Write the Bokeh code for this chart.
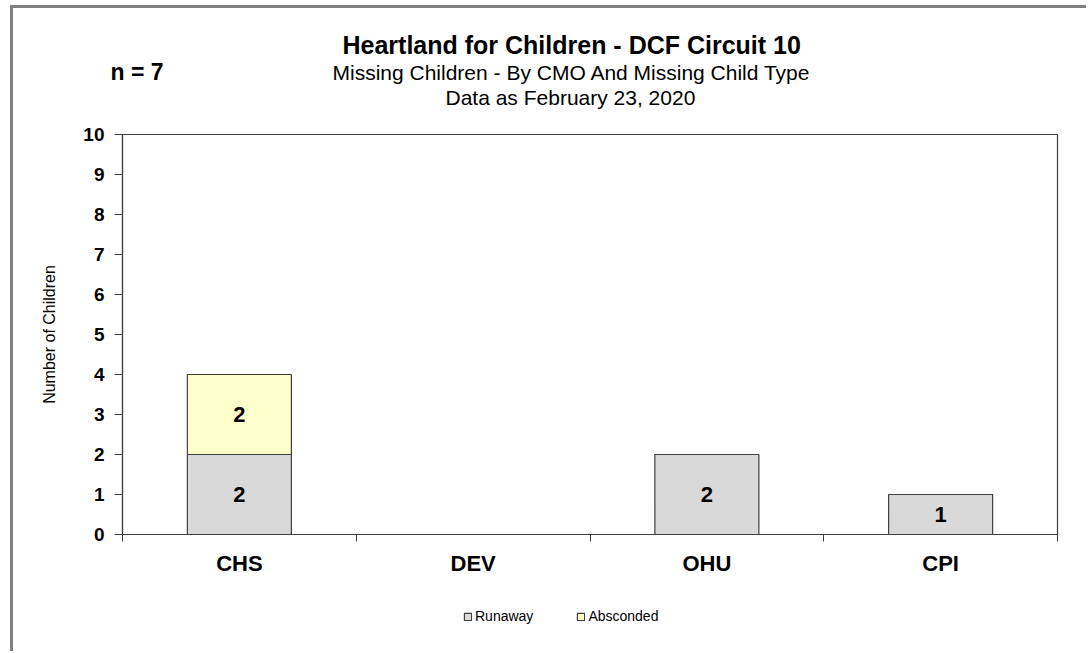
from bokeh.plotting import figure
from bokeh.layouts import column, row
from bokeh.models import (Range1d, FixedTicker, ColumnDataSource, LabelSet, Title,
                          Legend, LegendItem, Spacer)
from bokeh.core.properties import value
from bokeh.embed import file_html
from bokeh.resources import INLINE

categories = ["CHS", "DEV", "OHU", "CPI"]
runaway = [2, 0, 2, 1]
absconded = [2, 0, 0, 0]
series_names = ["Runaway", "Absconded"]
series_colors = ["#D9D9D9", "#FFFFCC"]
y_ticks = [0, 1, 2, 3, 4, 5, 6, 7, 8, 9, 10]
title = "Heartland for Children - DCF Circuit 10"
subtitle = "Missing Children - By CMO And Missing Child Type"
date_line = "Data as February 23, 2020"
n_text = "n = 7"

FONT = "Liberation Sans"
EDGE = "#404040"
FRAME_GRAY = {"background-color": "#808080"}
xs = [i + 0.5 for i in range(len(categories))]

p = figure(width=1073, height=572, output_backend="svg", toolbar_location=None,
           x_range=Range1d(0, len(categories)), y_range=Range1d(0, 10))
p.title = None
p.min_border_left = 109
p.min_border_right = 29
p.min_border_top = 126
p.min_border_bottom = 46
p.xgrid.visible = False
p.ygrid.visible = False
p.outline_line_color = EDGE
p.outline_line_width = 1.2

src = ColumnDataSource(dict(
    x=xs, run_top=runaway, abs_bottom=runaway,
    abs_top=[r + a for r, a in zip(runaway, absconded)],
))
p.vbar(x="x", bottom=0, top="run_top", width=0.445, source=src,
       fill_color=series_colors[0], line_color=EDGE, line_width=1.2)
p.vbar(x="x", bottom="abs_bottom", top="abs_top", width=0.445, source=src,
       fill_color=series_colors[1], line_color=EDGE, line_width=1.2)

lab = dict(x=[], y=[], t=[])
for x, r, a in zip(xs, runaway, absconded):
    if r > 0:
        lab["x"].append(x); lab["y"].append(r / 2); lab["t"].append(str(r))
    if a > 0:
        lab["x"].append(x); lab["y"].append(r + a / 2); lab["t"].append(str(a))
p.add_layout(LabelSet(x="x", y="y", text="t", source=ColumnDataSource(lab),
                      text_align="center", text_baseline="middle",
                      text_font=value(FONT), text_font_style="bold",
                      text_font_size="22px", text_color="#000000"))

xa = p.xaxis[0]
xa.ticker = FixedTicker(ticks=xs, minor_ticks=list(range(len(categories) + 1)))
xa.major_label_overrides = {x: c for x, c in zip(xs, categories)}
xa.major_tick_line_color = None
xa.minor_tick_out = 7
xa.minor_tick_in = 0
xa.minor_tick_line_color = EDGE
xa.axis_line_color = EDGE
xa.axis_line_width = 1.2
xa.major_label_standoff = 9
xa.major_label_text_font = FONT
xa.major_label_text_font_style = "bold"
xa.major_label_text_font_size = "22px"
xa.major_label_text_color = "#000000"

ya = p.yaxis[0]
ya.ticker = FixedTicker(ticks=y_ticks, minor_ticks=[])
ya.major_tick_out = 8
ya.major_tick_in = 0
ya.major_tick_line_color = EDGE
ya.axis_line_color = EDGE
ya.axis_line_width = 1.2
ya.major_label_standoff = 10
ya.major_label_text_font = FONT
ya.major_label_text_font_style = "bold"
ya.major_label_text_font_size = "19px"
ya.major_label_text_color = "#000000"
ya.axis_label = "Number of Children"
ya.axis_label_text_font = FONT
ya.axis_label_text_font_style = "normal"
ya.axis_label_text_font_size = "16px"
ya.axis_label_standoff = 22
ya.axis_label_text_color = "#000000"

# titles: later-added sit further from the frame
p.add_layout(Title(text=" ", text_font_size="16px", standoff=7), "above")
p.add_layout(Title(text=date_line, align="left", offset=323, standoff=0,
                   text_font=FONT, text_font_style="normal", text_font_size="21px",
                   text_color="#000000"), "above")
p.add_layout(Title(text=subtitle, align="left", offset=210, standoff=0,
                   text_font=FONT, text_font_style="normal", text_font_size="21px",
                   text_color="#000000"), "above")
p.add_layout(Title(text=n_text, align="left", offset=-12, standoff=-53,
                   text_font=FONT, text_font_style="bold", text_font_size="23px",
                   text_color="#000000"), "above")
p.add_layout(Title(text=title, align="left", offset=220, standoff=0,
                   text_font=FONT, text_font_style="bold", text_font_size="25px",
                   text_color="#000000"), "above")

# legend strip below the chart
lf = figure(width=1073, height=71, output_backend="svg", toolbar_location=None,
            x_range=Range1d(0, 1), y_range=Range1d(0, 1))
lf.title = None
lf.min_border_left = 109
lf.min_border_right = 29
lf.min_border_top = 0
lf.min_border_bottom = 0
lf.axis.visible = False
lf.grid.visible = False
lf.outline_line_color = None
tops = ["run_top", "abs_top"]
bottoms = [0, "abs_bottom"]
items = []
for name, color, t, b in zip(series_names, series_colors, tops, bottoms):
    rr = lf.vbar(x="x", bottom=b, top=t, width=0.445, source=src, visible=False,
                 fill_color=color, line_color=EDGE, line_width=1.2)
    items.append(LegendItem(label=name, renderers=[rr]))
legend = Legend(items=items, orientation="horizontal", location=(341, 27),
                glyph_width=9, glyph_height=9, label_standoff=3, spacing=43,
                padding=0, margin=0, border_line_color=None,
                background_fill_alpha=0,
                label_text_font=FONT, label_text_font_size="14px",
                label_height=14, label_text_color="#000000")
lf.add_layout(legend, "center")

inner = column(Spacer(width=1073, height=3, styles=FRAME_GRAY), p, lf, spacing=0)
layout = column(
    Spacer(width=1086, height=5),
    row(Spacer(width=10, height=646), Spacer(width=3, height=646, styles=FRAME_GRAY),
        inner, spacing=0),
    spacing=0,
)
open("out.html", "w").write(file_html(layout, INLINE))
